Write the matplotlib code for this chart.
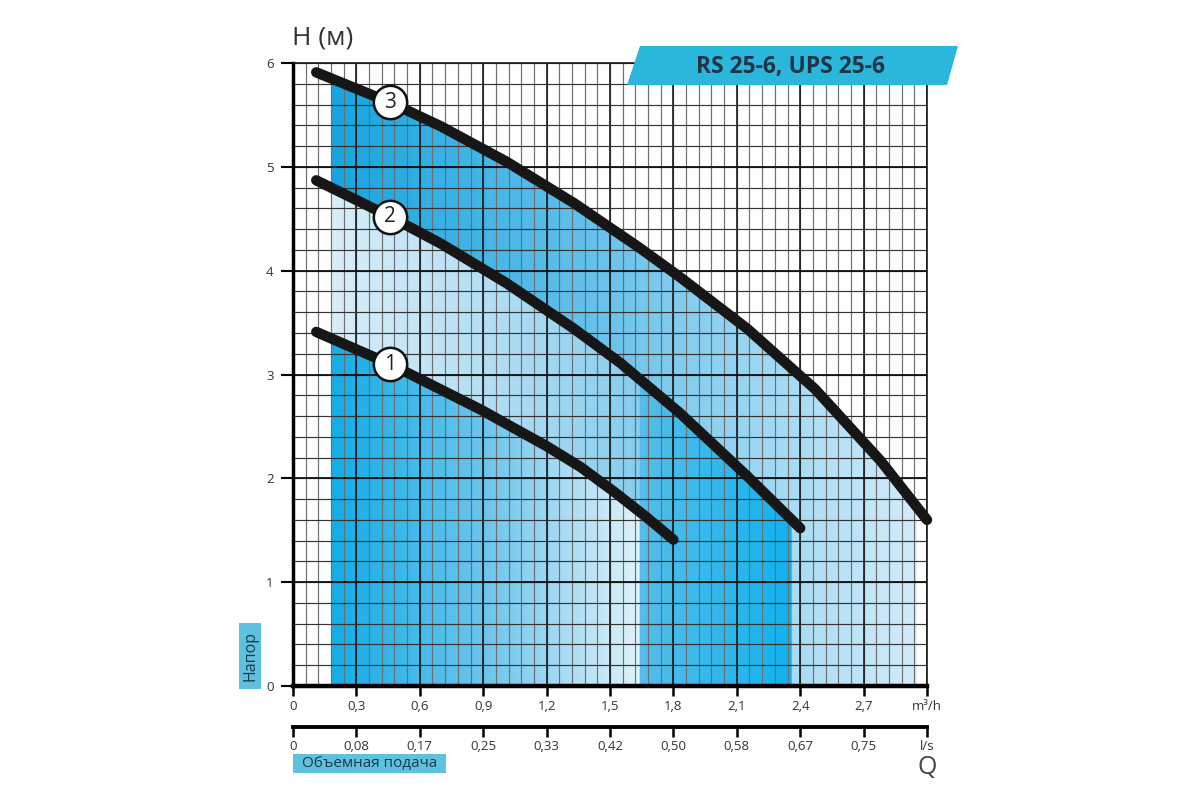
import numpy as np
import matplotlib
matplotlib.use("Agg")
import matplotlib.pyplot as plt
from matplotlib.colors import LinearSegmentedColormap
from matplotlib.patches import Polygon, Rectangle

plt.rcParams['font.family'] = ['Open Sans', 'DejaVu Sans']

# pump curves, Q in m3/h, H in m
q1 = [0.11, 0.46, 0.89, 1.04, 1.20, 1.36, 1.52, 1.67, 1.80]
h1 = [3.41, 3.10, 2.66, 2.49, 2.31, 2.11, 1.87, 1.63, 1.41]

q2 = [0.11, 0.46, 0.70, 1.01, 1.33, 1.55, 1.83, 2.15, 2.40]
h2 = [4.87, 4.52, 4.26, 3.88, 3.44, 3.11, 2.63, 2.02, 1.52]

q3 = [0.11, 0.46, 0.70, 1.01, 1.33, 1.64, 1.83, 2.15, 2.47, 2.78, 3.00]
h3 = [5.91, 5.62, 5.39, 5.05, 4.65, 4.22, 3.94, 3.44, 2.86, 2.17, 1.60]

curve_names = ['1', '2', '3']
label_q = [0.46, 0.46, 0.46]
label_h = [3.10, 4.52, 5.62]

x_labels = ['0', '0,3', '0,6', '0,9', '1,2', '1,5', '1,8', '2,1', '2,4', '2,7', 'm³/h']
ls_labels = ['0', '0,08', '0,17', '0,25', '0,33', '0,42', '0,50', '0,58', '0,67', '0,75', 'l/s']
y_labels = ['0', '1', '2', '3', '4', '5', '6']

title = 'RS 25-6, UPS 25-6'


def band(xa, xb, qu, hu, ql=None, hl=None):
    # polygon between an upper curve and a lower curve (or the axis)
    top_x = [xa] + [q for q in qu if xa < q < xb] + [xb]
    top = [(x, np.interp(x, qu, hu)) for x in top_x]
    if ql is None:
        bot = [(xb, 0), (xa, 0)]
    else:
        bot_x = [xa] + [q for q in ql if xa < q < xb] + [xb]
        bot = [(x, np.interp(x, ql, hl)) for x in bot_x][::-1]
    return top + bot


def grad_fill(ax, verts, colors, xa, xb):
    poly = Polygon(verts, closed=True, facecolor='none', edgecolor='none')
    ax.add_patch(poly)
    cmap = LinearSegmentedColormap.from_list('g', colors)
    grad = np.linspace(0, 1, 256)[None, :]
    im = ax.imshow(grad, cmap=cmap, extent=[xa, xb, 0, 6], aspect='auto',
                   origin='lower', zorder=1, interpolation='bilinear')
    im.set_clip_path(poly)


fig = plt.figure(figsize=(12, 8), dpi=100)
L, W = 293 / 1200, (927 - 293) / 1200
ax = fig.add_axes([L, 1 - 686 / 800, W, (686 - 63) / 800])

# blue shading
grad_fill(ax, band(0.18, 2.95, q3, h3), ['#15a5e1', '#6fc5ed', '#d2ecf9'], 0.18, 2.95)
grad_fill(ax, band(0.18, 1.64, q2, h2, q1, h1), ['#d8eef9', '#b4dff4', '#86cdee'], 0.18, 1.64)
grad_fill(ax, band(0.18, 1.64, q1, h1), ['#12ade8', '#6cc5ed', '#e0f2fb'], 0.18, 1.64)
grad_fill(ax, band(1.64, 2.36, q2, h2), ['#55bdea', '#0fb3ef'], 1.64, 2.36)

# grid
ax.vlines(np.arange(0, 3.001, 0.06), 0, 6, color='#6e6e6e', lw=0.85, zorder=2)
ax.vlines(np.arange(0, 3.001, 0.3), 0, 6, color='#1a1a1a', lw=1.2, zorder=2)
ax.hlines(np.arange(0, 6.001, 0.2), 0, 3, color='#333333', lw=0.85, zorder=2)
ax.hlines(np.arange(0, 6.001, 1.0), 0, 3, color='#111111', lw=1.3, zorder=2)

# curves
for q, h in [(q1, h1), (q2, h2), (q3, h3)]:
    ax.plot(q, h, color='#161616', lw=7.5, solid_capstyle='round',
            solid_joinstyle='round', zorder=4, clip_on=False)

for name, q, h in zip(curve_names, label_q, label_h):
    ax.plot(q, h, 'o', ms=24, mfc='white', mec='#111111', mew=1.8, zorder=5)
    ax.text(q, h, name, ha='center', va='center', fontsize=15, color='#222222', zorder=6)

ax.set_xlim(0, 3)
ax.set_ylim(0, 6)
ax.set_xticks(np.arange(0, 3.001, 0.3))
ax.set_xticklabels(x_labels)
ax.set_yticks(range(7))
ax.set_yticklabels(y_labels)
ax.tick_params(axis='x', direction='out', length=7, width=1.8, pad=3,
               labelsize=9.5, labelcolor='#333333')
ax.tick_params(axis='y', direction='out', length=9, width=1.5, pad=5,
               labelsize=9.5, labelcolor='#333333')
for s in ['top', 'right']:
    ax.spines[s].set_linewidth(1.2)
    ax.spines[s].set_color('#1a1a1a')
ax.spines['left'].set_linewidth(2.5)
ax.spines['bottom'].set_linewidth(3.2)

# second axis in l/s
ax2 = fig.add_axes([L, 1 - 727 / 800, W, 0.0001])
ax2.set_xlim(0, 3)
ax2.set_xticks(np.arange(0, 3.001, 0.3))
ax2.set_xticklabels(ls_labels)
ax2.set_yticks([])
for s in ['top', 'right', 'left']:
    ax2.spines[s].set_visible(False)
ax2.spines['bottom'].set_linewidth(2.8)
ax2.patch.set_visible(False)
ax2.tick_params(axis='x', direction='out', length=7, width=1.8, pad=2,
                labelsize=9.5, labelcolor='#333333')

# texts and boxes
fig.text(292 / 1200, 1 - 38 / 800, 'H (м)', fontsize=19, color='#333333',
         ha='left', va='center')
fig.text(927 / 1200, 1 - 767 / 800, 'Q', fontsize=18, color='#444444',
         ha='center', va='center')

box_col = '#5ec1dd'
fig.add_artist(Rectangle((239 / 1200, 1 - 689 / 800), 22 / 1200, 66 / 800,
                         transform=fig.transFigure, color=box_col, lw=0))
fig.text(250 / 1200, 1 - 656 / 800, 'Напор', rotation=90, fontsize=11.5,
         color='#1b3a4b', ha='center', va='center')
fig.add_artist(Rectangle((293 / 1200, 1 - 773 / 800), 153 / 1200, 19 / 800,
                         transform=fig.transFigure, color=box_col, lw=0))
fig.text(369.5 / 1200, 1 - 763.5 / 800, 'Объемная подача', fontsize=11,
         color='#1b3a4b', ha='center', va='center')

banner = [(640, 46), (958, 46), (947, 85), (627, 85)]
fig.add_artist(Polygon([(x / 1200, 1 - y / 800) for x, y in banner], closed=True,
                       transform=fig.transFigure, color='#2bb7dc', lw=0))
fig.text(790 / 1200, 1 - 67 / 800, title, fontsize=16.5, fontweight='bold',
         color='#1d3547', ha='center', va='center')

fig.savefig('out.png', dpi=100, facecolor='white')
